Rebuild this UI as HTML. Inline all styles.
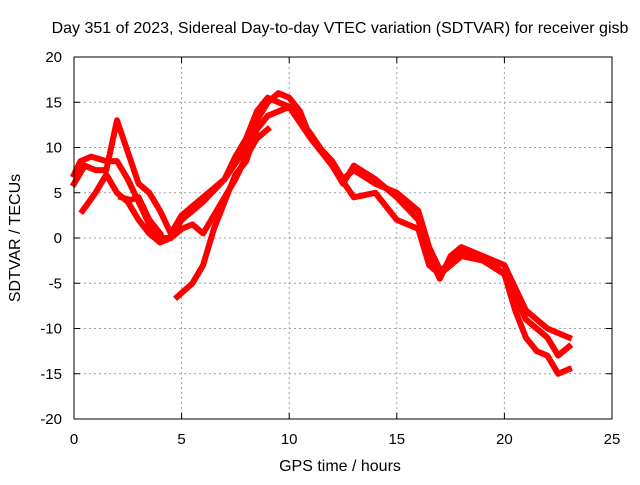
<!DOCTYPE html>
<html><head><meta charset="utf-8"><style>
body{margin:0;background:#fff}
svg text{font-family:"Liberation Sans",sans-serif;font-size:15px;fill:#000}
svg text.big{font-size:16px}
</style></head><body>
<svg id="chart" width="640" height="480">
<rect width="640" height="480" fill="#fff"/>
<text class="big" x="340" y="33" text-anchor="middle">Day 351 of 2023, Sidereal Day-to-day VTEC variation (SDTVAR) for receiver gisb</text>
<g id="grid"></g>
<g id="ticks"></g>
<g id="series"></g>
<rect x="74" y="57" width="538" height="362" fill="none" stroke="#000" stroke-width="1"/>
<text class="big" x="340" y="471" text-anchor="middle">GPS time / hours</text>
<text class="big" x="20" y="238" text-anchor="middle" transform="rotate(-90 20 238)">SDTVAR / TECUs</text>
</svg>
<script>
const xTicks=[0,5,10,15,20,25];
const yTicks=[20,15,10,5,0,-5,-10,-15,-20];
const sA_x=[0,0.3,0.8,1.5,2,2.5,3,3.5,4,4.5,5,6,7,8,8.5,9,9.5,10,10.5,11,12,12.5,13,14,15,16,16.5,17,17.5,18,19,20,21,22,23];
const sA_y=[7,8.5,9,8.5,8.5,6.5,4,1.5,0,0,2,4,6.5,10,13,15,16,15.5,14,11,8.5,6.5,7.5,6,5,3,-1,-3.5,-3,-1.5,-2,-3,-8,-10,-11];
const sB_x=[0,0.5,1,1.5,2,2.5,3,3.5,4,4.5,5,6,7,7.5,8,8.5,9,9.5,10,11,12,12.5,13,14,14.5,15,16,16.5,17,17.5,18,19,20,21,22,22.5,23];
const sB_y=[6,8,7.5,7.5,13,9.5,6,5,3,0.5,2.5,4.5,6.5,9,11,14,15.5,15,14.5,11.5,8,6,8,6.5,5.5,4.5,2,-2,-4.5,-2,-1,-2,-4,-9,-11,-13,-12];
const sC_x=[0.4,1,1.5,2,2.5,3,3.5,4,4.5,5,5.5,6,6.5,7,7.5,8,8.5,9];
const sC_y=[3,5,7,5,4,2,0.5,-0.5,0,1,1.5,0.5,2.5,4.5,6.5,9,11,12];
const sD_x=[4.8,5.5,6,6.5,7,7.5,8,8.5,9,10,11,12,13,14,15,16,16.5,17,18,19,20,20.5,21,21.5,22,22.5,23];
const sD_y=[-6.5,-5,-3,1,4,7,8.5,12,13.5,14.5,11,8,4.5,5,2,1,-3,-4,-2,-2.5,-4,-8,-11,-12.5,-13,-15,-14.5];
const sE_x=[2.2,2.6,3,3.5,4];
const sE_y=[4.5,4.2,4.5,2,0.5];
const X=v=>74+v*(538/25), Y=v=>238-v*(362/40);
const NS="http://www.w3.org/2000/svg";
function mk(t,a,p){const e=document.createElementNS(NS,t);for(const k in a)e.setAttribute(k,a[k]);p.appendChild(e);return e;}
const grid=document.getElementById('grid'),ticks=document.getElementById('ticks'),ser=document.getElementById('series');
xTicks.forEach(t=>{
 if(t>0&&t<25){const l=mk('line',{x1:X(t),x2:X(t),y1:57,y2:419,stroke:'#a0a0a0','stroke-dasharray':'2,3'},grid);
 
 }
 mk('line',{x1:X(t),x2:X(t),y1:419,y2:413,stroke:'#000'},ticks);mk('line',{x1:X(t),x2:X(t),y1:57,y2:63,stroke:'#000'},ticks);
 const tx=mk('text',{x:X(t),y:444,'text-anchor':'middle'},ticks);tx.textContent=t;
 
 
});
yTicks.forEach(t=>{
 if(t>-20&&t<20){const l=mk('line',{x1:74,x2:612,y1:Y(t),y2:Y(t),stroke:'#a0a0a0','stroke-dasharray':'2,3'},grid);
 
 }
 mk('line',{x1:74,x2:80,y1:Y(t),y2:Y(t),stroke:'#000'},ticks);mk('line',{x1:612,x2:606,y1:Y(t),y2:Y(t),stroke:'#000'},ticks);
 const tx=mk('text',{x:62,y:Y(t)+5,'text-anchor':'end'},ticks);tx.textContent=t;
 
 
});
[[sA_x,sA_y],[sB_x,sB_y],[sC_x,sC_y],[sD_x,sD_y],[sE_x,sE_y]].forEach((s,i)=>{
 const pts=s[0].map((x,j)=>X(x).toFixed(1)+','+Y(s[1][j]).toFixed(1)).join(' ');
 const p=mk('polyline',{points:pts,fill:'none',stroke:'#ff0000','stroke-width':6,'stroke-linejoin':'round','stroke-linecap':'square'},ser);
 
 
});
</script>
</body></html>
